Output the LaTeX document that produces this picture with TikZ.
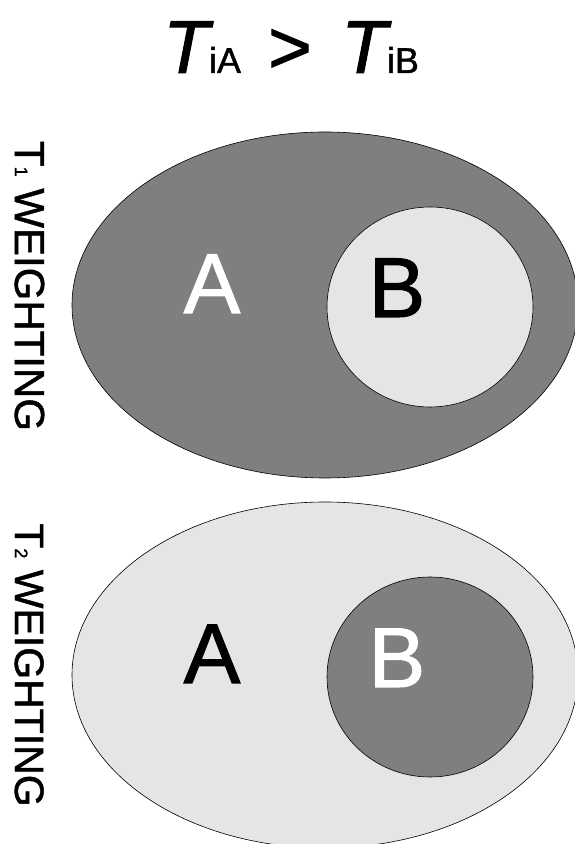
\documentclass[tikz,border=0pt]{standalone}
\usepackage{fontspec}
\setmainfont{Liberation Sans}
\newfontfamily\heavy[FakeBold=1.2]{Liberation Sans}
\definecolor{darkg}{RGB}{126,128,127}
\definecolor{lightg}{RGB}{228,229,228}
\begin{document}
\begin{tikzpicture}[x=1pt,y=1pt,
  blob/.style={draw=black,line width=0.6pt},
  bigletter/.style={inner sep=0pt,anchor=base,font=\heavy\fontsize{85}{85}\selectfont},
  sidelabel/.style={inner sep=0pt,anchor=base,rotate=-90},
  titlepart/.style={inner sep=0pt}]
\useasboundingbox (0,0) rectangle (575,844);
\fill[white] (0,0) rectangle (575,844);
\begin{scope}
\clip (0,0) rectangle (575,844);
% top panel (T1)
\draw[blob,fill=darkg] (325,539) ellipse [x radius=253, y radius=173];
\draw[blob,fill=lightg] (430,537) ellipse [x radius=103, y radius=100];
% bottom panel (T2)
\draw[blob,fill=lightg] (325,169) ellipse [x radius=253, y radius=173];
\draw[blob,fill=darkg] (430,167) ellipse [x radius=103, y radius=100];
\end{scope}
% letters
\node[bigletter,text=white] (a1) at (212,531) {A};
\node[bigletter,text=black] (b1) at (397,527) {B};
\node[bigletter,text=black] (a2) at (212,161) {A};
\node[bigletter,text=white] (b2) at (397,157) {B};
% side labels
\node[sidelabel,font=\heavy\fontsize{42}{42}\selectfont] (l1) at (15,558)
  {T{\fontsize{18}{18}\selectfont 1} WEIGHTING};
\node[sidelabel,font=\heavy\fontsize{41}{41}\selectfont] (l2) at (15,179)
  {T{\fontsize{18}{18}\selectfont 2} WEIGHTING};
% title
\node[titlepart,anchor=base west] (ta) at (163,771)
  {{\heavy\fontsize{75}{75}\selectfont\itshape T}{\heavy\fontsize{36}{36}\selectfont iA}};
\node[titlepart,anchor=base] (gt) at (290,771) {\heavy\fontsize{75}{75}\selectfont >};
\node[titlepart,anchor=base west] (tb) at (341,771)
  {{\heavy\fontsize{75}{75}\selectfont\itshape T}{\heavy\fontsize{36}{36}\selectfont iB}};
\end{tikzpicture}
\end{document}
